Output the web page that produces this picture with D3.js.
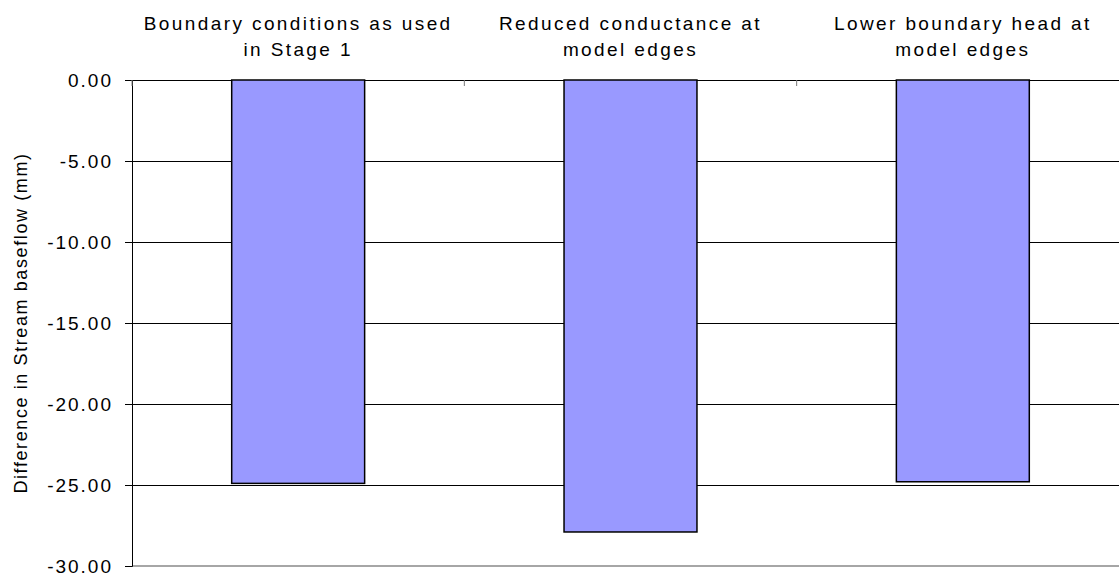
<!DOCTYPE html>
<html><head><meta charset="utf-8">
<script src="https://cdn.jsdelivr.net/npm/d3@7"></script>
<style>body{margin:0;background:#fff}svg{display:block}text{font-family:"Liberation Sans",Arial,sans-serif;fill:#000}</style>
</head><body><svg id="c" width="1119" height="576"></svg>
<script>
const categories = [["Boundary conditions as used","in Stage 1"],["Reduced conductance at","model edges"],["Lower boundary head at","model edges"]];
const values = [-24.9, -27.9, -24.8];
const yTicks = [0,-5,-10,-15,-20,-25,-30];
const yTitle = "Difference in Stream baseflow (mm)";

const svg = d3.select("#c");
const L=132, R=1129, T=80, B=566;
const FS="19px", LS="2.4px";
const x = d3.scaleBand().domain(d3.range(categories.length)).range([L,R]).paddingInner(0.6).paddingOuter(0.3);
const xb = d3.scaleBand().domain(d3.range(categories.length)).range([L,R]);
const y = d3.scaleLinear().domain([-30,0]).range([B,T]);
const fmt = d3.formatLocale({decimal:".",thousands:",",grouping:[3],currency:["",""],minus:"-"}).format(".2f");

// gridlines
svg.append("g").selectAll("line").data(yTicks.filter(d=>d>-30)).join("line")
  .attr("x1",L).attr("x2",R).attr("y1",d=>y(d)).attr("y2",d=>y(d))
  .attr("stroke","#000").attr("stroke-width",1).attr("shape-rendering","crispEdges");
// bottom border
svg.append("line").attr("x1",L).attr("x2",R).attr("y1",y(-30)).attr("y2",y(-30))
  .attr("stroke","#888").attr("stroke-width",1.5);

// y axis
const yAxis = svg.append("g").attr("transform",`translate(${L},0)`)
  .call(d3.axisLeft(y).tickValues(yTicks).tickFormat(fmt).tickSize(7).tickPadding(12));
yAxis.select(".domain").attr("stroke","#000");
yAxis.selectAll(".tick line").attr("stroke","#000");
yAxis.selectAll("text").style("font-size",FS).style("letter-spacing","2px")
  .style("font-family","'Liberation Sans',Arial,sans-serif").attr("dy","0.36em");

// top category ticks
svg.append("g").selectAll("line").data(d3.range(categories.length+1)).join("line")
  .attr("x1",i=>L+i*xb.bandwidth()).attr("x2",i=>L+i*xb.bandwidth())
  .attr("y1",T).attr("y2",T+6).attr("stroke","#777").attr("stroke-width",1);

// bars
svg.append("g").selectAll("rect").data(values).join("rect")
  .attr("x",(d,i)=>x(i)).attr("width",x.bandwidth())
  .attr("y",d=>y(0)).attr("height",d=>y(d)-y(0))
  .attr("fill","#9999FF").attr("stroke","#000").attr("stroke-width",1.5);

// category labels
const lab = svg.append("g").selectAll("text").data(categories).join("text")
  .attr("text-anchor","middle").style("font-size",FS).style("letter-spacing",LS)
  .attr("x",(d,i)=>xb(i)+xb.bandwidth()/2).attr("y",29.5);
lab.selectAll("tspan").data(d=>d).join("tspan")
  .attr("x",function(){return this.parentNode.getAttribute("x");})
  .attr("dy",(d,j)=>j===0?0:26).text(d=>d);

// y title
svg.append("text").attr("transform",`translate(27,${(T+B)/2}) rotate(-90)`)
  .attr("text-anchor","middle").style("font-size","18px").style("letter-spacing","1.6px").text(yTitle);
</script></body></html>
